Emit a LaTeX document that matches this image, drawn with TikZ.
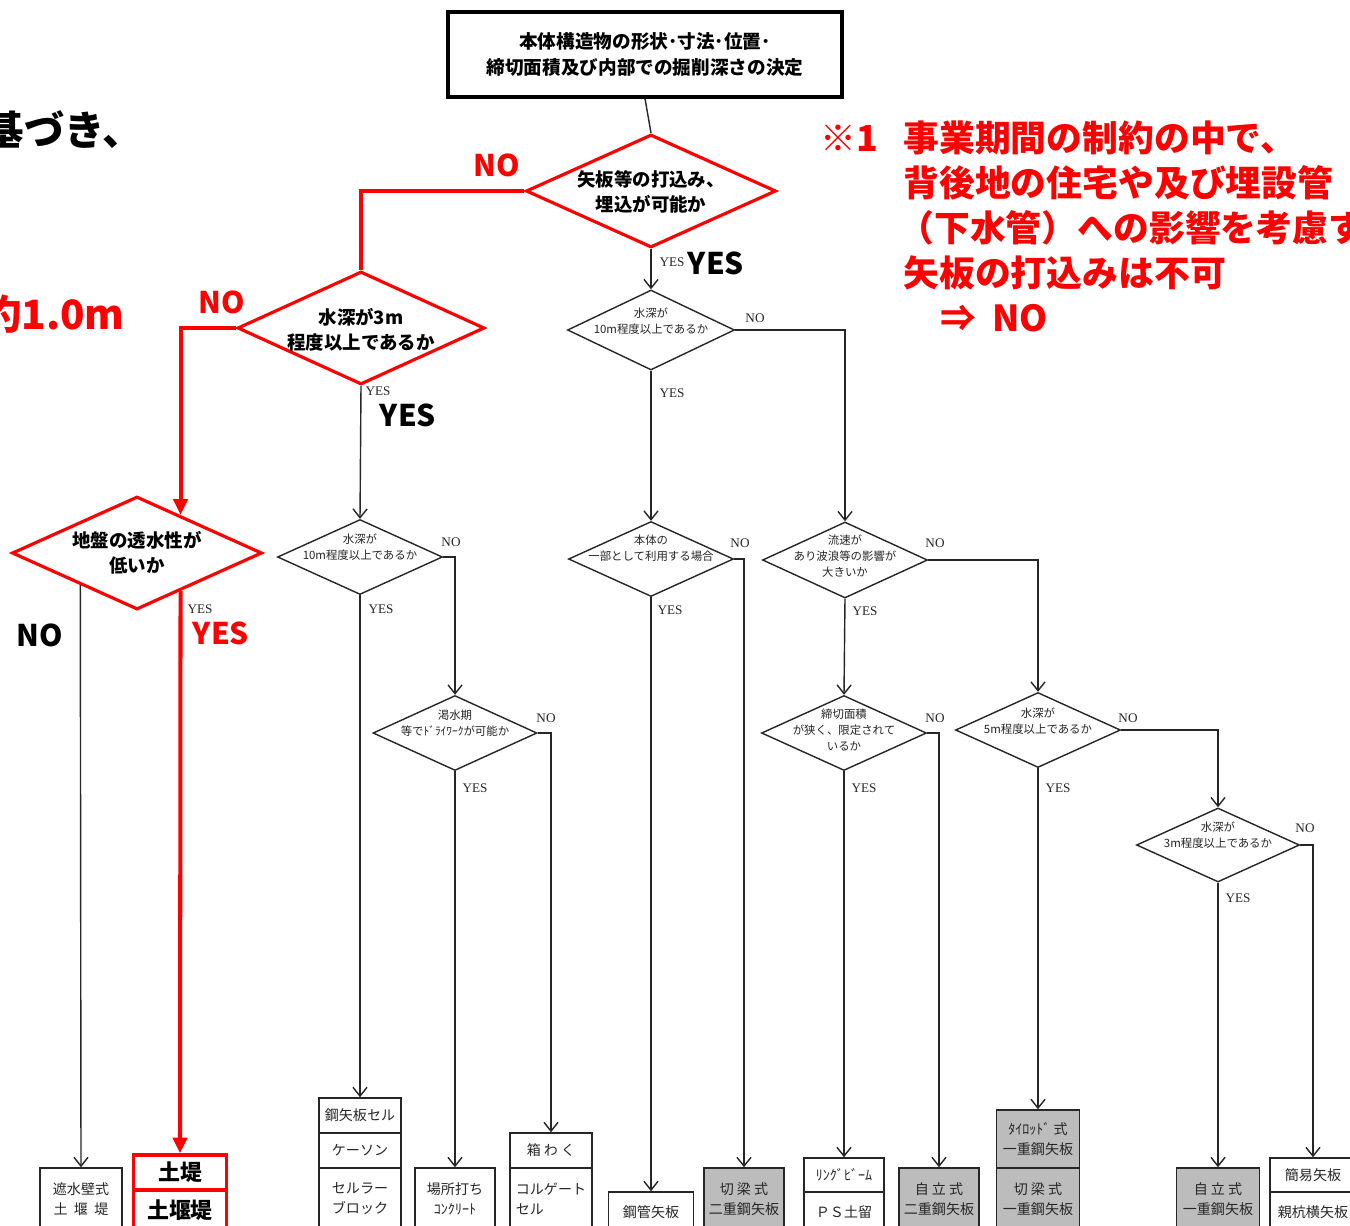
\documentclass[tikz,border=0pt]{standalone}
\usepackage{fontspec}
\setmainfont{Noto Sans CJK JP}
\newfontfamily\scanfont{Liberation Serif}
\usetikzlibrary{shapes.geometric,arrows.meta,calc}
\definecolor{rd}{RGB}{255,0,0}
\definecolor{shade}{RGB}{188,188,188}
\begin{document}
\begin{tikzpicture}[x=0.02cm,y=-0.02cm,
  sz/.style 2 args={minimum width={#1*0.02cm},minimum height={#2*0.02cm}},
  bline/.style={draw=black!85, line width=0.8pt},
  barrow/.style={bline, -{Straight Barb[length=5pt,width=8pt]}},
  rline/.style={draw=rd, line width=2.3pt},
  rarrow/.style={rline, -{Triangle[length=9pt,width=8pt]}},
  rdia/.style={diamond, draw=rd, line width=1.8pt, inner sep=0, fill=white},
  bdia/.style={diamond, draw=black!85, line width=0.8pt, inner sep=0, fill=white},
  dtxt/.style={font=\fontsize{6.5}{9}\selectfont, align=center, inner sep=0, text=black!85},
  rtxt/.style={font=\bfseries\fontsize{10.5}{14}\selectfont, align=center, inner sep=0},
  bigred/.style={text=rd, font=\bfseries\fontsize{17}{20}\selectfont, inner sep=0},
  bigblk/.style={text=black, font=\bfseries\fontsize{17}{20}\selectfont, inner sep=0},
  small/.style={font=\scanfont\fontsize{7.5}{8}\selectfont, inner sep=0, text=black!85},
  bx/.style={draw=black!85, line width=0.9pt, inner sep=0, align=center, font=\fontsize{8}{11.3}\selectfont, text=black!85},
  gbx/.style={bx, fill=shade},
  rbx/.style={draw=rd, line width=1.8pt, inner sep=0, fill=white, font=\bfseries\fontsize{12.5}{14}\selectfont},
  anno/.style={text=rd, font=\bfseries\fontsize{20.4}{24}\selectfont, anchor=west, inner sep=0}
]
\useasboundingbox (0,0) rectangle (1350,1225);
\clip (0,0) rectangle (1350,1225);
\fill[white] (0,0) rectangle (1350,1225);

% partial texts on the left
\node[font=\bfseries\fontsize{23}{28}\selectfont, anchor=east, inner sep=0] (kz) at (143,130) {基づき、};
\node[text=rd, font=\bfseries\fontsize{23}{26}\selectfont, anchor=east, inner sep=0] (yk) at (125,314) {約1.0m};

% annotation
\node[anno] (a0) at (820,138) {※1};
\node[anno] (a1) at (903,138) {事業期間の制約の中で、};
\node[anno] (a2) at (903,183) {背後地の住宅や及び埋設管};
\node[anno] (a3) at (898,228) {（下水管）への影響を考慮す};
\node[anno] (a4) at (903,273) {矢板の打込みは不可};
\node[anno] (a5) at (940,318) {⇒\ \ NO};

% top box
\node[draw=black, line width=1.8pt, sz={394}{85}, align=center, inner sep=0,
  font=\bfseries\fontsize{10.6}{14.5}\selectfont] (tb) at (645,54.5)
  {本体構造物の形状･寸法･位置･\\締切面積及び内部での掘削深さの決定};

% diamonds
\node[rdia, sz={250}{113}] (d1) at (651,191) {};
\node[rdia, sz={247}{113}] (d2) at (361,328) {};
\node[rdia, sz={250}{113}] (d3) at (137,553) {};
\node[bdia, sz={167}{80}] (da) at (651,330) {};
\node[bdia, sz={165}{75}] (d4) at (360,557) {};
\node[bdia, sz={164}{75}] (d5) at (455,733) {};
\node[bdia, sz={165}{75}] (d6) at (651,559) {};
\node[bdia, sz={165}{76}] (d7) at (845,560) {};
\node[bdia, sz={165}{75}] (d8) at (844,733) {};
\node[bdia, sz={165}{75}] (d9) at (1038,730) {};
\node[bdia, sz={163}{74}] (d10) at (1218,845) {};

% diamond texts
\node[rtxt] (t1) at (651,192) {矢板等の打込み、\\埋込が可能か};
\node[rtxt] (t2) at (361,330) {水深が3m\\程度以上であるか};
\node[rtxt] (t3) at (137,553) {地盤の透水性が\\低いか};
\node[dtxt] (ta) at (651,321) {水深が\\10m程度以上であるか};
\node[dtxt] (t4) at (360,547) {水深が\\10m程度以上であるか};
\node[dtxt] (t5) at (455,723) {渇水期\\等でﾄﾞﾗｲﾜｰｸが可能か};
\node[dtxt] (t6) at (651,548) {本体の\\一部として利用する場合};
\node[dtxt] (t7) at (845,556) {流速が\\あり波浪等の影響が\\大きいか};
\node[dtxt] (t8) at (844,730) {締切面積\\が狭く、限定されて\\いるか};
\node[dtxt] (t9) at (1038,721) {水深が\\5m程度以上であるか};
\node[dtxt] (t10) at (1218,835) {水深が\\3m程度以上であるか};

% bottom boxes
\node[bx, sz={82}{62}] (s) at (81,1199) {遮水壁式\\土\ \ 堰\ \ 堤};
\node[rbx, sz={93}{35}] (rb1) at (180,1172.5) {土堤};
\node[rbx, sz={93}{40}] (rb2) at (180,1210) {土堰堤};
\node[bx, sz={82}{35}] (k1) at (360,1115.5) {鋼矢板セル};
\node[bx, sz={82}{35}] (k2) at (360,1150.5) {ケーソン};
\node[bx, sz={82}{62}] (k3) at (360,1199) {セルラー\\ブロック};
\node[bx, sz={80}{62}] (bb) at (455,1199) {場所打ち\\ｺﾝｸﾘｰﾄ};
\node[bx, sz={82}{35}] (h1) at (551,1150.5) {箱\ わ\ く};
\node[bx, sz={82}{62}, align=left] (h2) at (551,1199) {コルゲート\\セル\phantom{ゲート}};
\node[bx, sz={85}{40}] (p) at (651,1212) {鋼管矢板};
\node[gbx, sz={80}{62}] (c1) at (744,1199) {切\ 梁\ 式\\二重鋼矢板};
\node[bx, sz={80}{34}] (r1) at (844,1175) {ﾘﾝｸﾞﾋﾞｰﾑ};
\node[bx, sz={80}{40}] (r2) at (844,1212) {ＰＳ土留};
\node[gbx, sz={80}{62}] (j1) at (939,1199) {自\ 立\ 式\\二重鋼矢板};
\node[gbx, sz={83}{58}] (tt1) at (1038,1139) {ﾀｲﾛｯﾄﾞ\ 式\\一重鋼矢板};
\node[gbx, sz={83}{62}] (tt2) at (1038,1199) {切\ 梁\ 式\\一重鋼矢板};
\node[gbx, sz={83}{62}] (j2) at (1218,1199) {自\ 立\ 式\\一重鋼矢板};
\node[bx, sz={86}{34}] (e1) at (1313,1175) {簡易矢板};
\node[bx, sz={86}{40}] (e2) at (1313,1212) {親杭横矢板};

% connectors
\draw[bline] (tb.south) -- (d1.north);
\draw[barrow] (d1.south) -- (da.north);
\draw[barrow] (d2.south) -- (d4.north);
\draw[barrow] (da.east) -| (d7.north);
\draw[barrow] (da.south) -- (d6.north);
\draw[barrow] (d4.east) -| (d5.north);
\draw[barrow] (d4.south) -- (k1.north);
\draw[barrow] (d5.south) -- (bb.north);
\draw[barrow] (d5.east) -| (h1.north);
\draw[barrow] (d6.south) -- (p.north);
\draw[barrow] (d6.east) -| (c1.north);
\draw[barrow] (d7.south) -- (d8.north);
\draw[barrow] (d7.east) -| (d9.north);
\draw[barrow] (d8.south) -- (r1.north);
\draw[barrow] (d8.east) -| (j1.north);
\draw[barrow] (d9.south) -- (tt1.north);
\draw[barrow] (d9.east) -| (d10.north);
\draw[barrow] (d10.south) -- (j2.north);
\draw[barrow] (d10.east) -| (e1.north);
\coordinate (d3no) at ($(d3.west)!0.552!(d3.south)$);
\draw[barrow] (d3no) -- (s.north);
\coordinate (d3yes) at ($(d3.south)!0.344!(d3.east)$);
\coordinate (d3in) at ($(d3.north)!0.344!(d3.east)$);
\draw[rline] (d1.west) -| (d2.north);
\draw[rarrow] (d2.west) -| (d3in);
\draw[rarrow] (d3yes) -- (rb1.north);

% labels
\node[bigred] (n1) at (497,165) {NO};
\node[bigred] (n2) at (222,302) {NO};
\node[bigblk] (y1) at (716,263) {YES};
\node[bigblk] (y2) at (408,415) {YES};
\node[bigblk] (n3) at (40,635) {NO};
\node[bigred] (y3) at (221,633) {YES};
\node[small] at (672,262) {YES};
\node[small] at (378,391) {YES};
\node[small] at (200,609) {YES};
\node[small] at (755,318) {NO};
\node[small] at (672,393) {YES};
\node[small] at (451,542) {NO};
\node[small] at (381,609) {YES};
\node[small] at (740,543) {NO};
\node[small] at (670,610) {YES};
\node[small] at (935,543) {NO};
\node[small] at (865,611) {YES};
\node[small] at (546,718) {NO};
\node[small] at (475,788) {YES};
\node[small] at (935,718) {NO};
\node[small] at (864,788) {YES};
\node[small] at (1128,718) {NO};
\node[small] at (1058,788) {YES};
\node[small] at (1305,828) {NO};
\node[small] at (1238,898) {YES};
\end{tikzpicture}
\end{document}
